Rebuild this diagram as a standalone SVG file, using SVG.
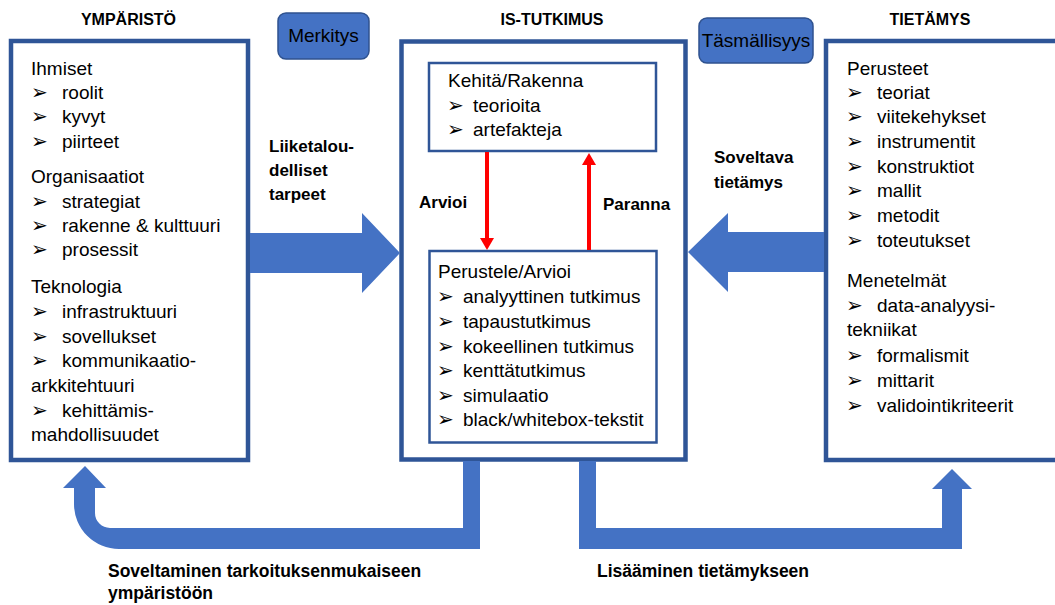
<svg xmlns="http://www.w3.org/2000/svg" width="1055" height="605" viewBox="0 0 1055 605">
<style>
.big{fill:#fff;stroke:#2F5597;stroke-width:4.5}
.inner{fill:#fff;stroke:#2F5597;stroke-width:2.5}
.btn{fill:#4472C4;stroke:#2F528F;stroke-width:1.5}
.t{font-family:"Liberation Sans",Arial,sans-serif;font-size:19px;fill:#000}
.b{font-family:"Liberation Sans",Arial,sans-serif;font-weight:bold;fill:#000}
.bl{font-family:"DejaVu Sans",sans-serif;font-size:20px}
.arr{fill:#4472C4}
.red{stroke:#FF0000;stroke-width:4;fill:none}
.redh{fill:#FF0000}
</style>
<rect width="1055" height="605" fill="#fff"/>

<g id="ymparisto">
<text class="b" x="128.5" y="25" font-size="16" text-anchor="middle">YMPÄRISTÖ</text>
<rect class="big" x="11" y="41" width="237" height="419"/>
<text class="t" x="31" y="75">Ihmiset</text>
<text class="t" y="99"><tspan class="bl" x="31">➢</tspan><tspan x="62">roolit</tspan></text>
<text class="t" y="123"><tspan class="bl" x="31">➢</tspan><tspan x="62">kyvyt</tspan></text>
<text class="t" y="148"><tspan class="bl" x="31">➢</tspan><tspan x="62">piirteet</tspan></text>
<text class="t" x="31" y="183">Organisaatiot</text>
<text class="t" y="208"><tspan class="bl" x="31">➢</tspan><tspan x="62">strategiat</tspan></text>
<text class="t" y="232"><tspan class="bl" x="31">➢</tspan><tspan x="62">rakenne &amp; kulttuuri</tspan></text>
<text class="t" y="256"><tspan class="bl" x="31">➢</tspan><tspan x="62">prosessit</tspan></text>
<text class="t" x="31" y="293">Teknologia</text>
<text class="t" y="318"><tspan class="bl" x="31">➢</tspan><tspan x="62">infrastruktuuri</tspan></text>
<text class="t" y="343"><tspan class="bl" x="31">➢</tspan><tspan x="62">sovellukset</tspan></text>
<text class="t" y="367"><tspan class="bl" x="31">➢</tspan><tspan x="62">kommunikaatio-</tspan></text>
<text class="t" x="31" y="392">arkkitehtuuri</text>
<text class="t" y="417"><tspan class="bl" x="31">➢</tspan><tspan x="62">kehittämis-</tspan></text>
<text class="t" x="31" y="441">mahdollisuudet</text>
</g>

<g id="merkitys">
<rect class="btn" x="278" y="13" width="91" height="46" rx="8"/>
<text class="t" x="323.5" y="42" text-anchor="middle">Merkitys</text>
</g>

<g id="is-tutkimus">
<text class="b" x="552" y="25" font-size="16" text-anchor="middle">IS-TUTKIMUS</text>
<rect class="big" x="401.5" y="41.5" width="284" height="418"/>
</g>

<g id="kehita">
<rect class="inner" x="429" y="63" width="227" height="88"/>
<text class="t" x="448" y="87">Kehitä/Rakenna</text>
<text class="t" y="112"><tspan class="bl" x="447">➢</tspan><tspan x="473">teorioita</tspan></text>
<text class="t" y="136"><tspan class="bl" x="447">➢</tspan><tspan x="473">artefakteja</tspan></text>
</g>

<g id="perustele">
<rect class="inner" x="429.5" y="251" width="227" height="191.5"/>
<text class="t" x="438" y="278">Perustele/Arvioi</text>
<text class="t" y="303"><tspan class="bl" x="437">➢</tspan><tspan x="463">analyyttinen tutkimus</tspan></text>
<text class="t" y="328"><tspan class="bl" x="437">➢</tspan><tspan x="463">tapaustutkimus</tspan></text>
<text class="t" y="353"><tspan class="bl" x="437">➢</tspan><tspan x="463">kokeellinen tutkimus</tspan></text>
<text class="t" y="377"><tspan class="bl" x="437">➢</tspan><tspan x="463">kenttätutkimus</tspan></text>
<text class="t" y="402"><tspan class="bl" x="437">➢</tspan><tspan x="463">simulaatio</tspan></text>
<text class="t" y="426"><tspan class="bl" x="437">➢</tspan><tspan x="463">black/whitebox-tekstit</tspan></text>
</g>

<g id="tasmallisyys">
<rect class="btn" x="699" y="18" width="114" height="45" rx="8"/>
<text class="t" x="756" y="47" font-size="17" text-anchor="middle">Täsmällisyys</text>
</g>

<g id="tietamys">
<text class="b" x="930" y="25" font-size="16" text-anchor="middle">TIETÄMYS</text>
<rect class="big" x="826" y="41" width="260" height="419"/>
<text class="t" x="847" y="75">Perusteet</text>
<text class="t" y="99"><tspan class="bl" x="846">➢</tspan><tspan x="877">teoriat</tspan></text>
<text class="t" y="123"><tspan class="bl" x="846">➢</tspan><tspan x="877">viitekehykset</tspan></text>
<text class="t" y="148"><tspan class="bl" x="846">➢</tspan><tspan x="877">instrumentit</tspan></text>
<text class="t" y="173"><tspan class="bl" x="846">➢</tspan><tspan x="877">konstruktiot</tspan></text>
<text class="t" y="197"><tspan class="bl" x="846">➢</tspan><tspan x="877">mallit</tspan></text>
<text class="t" y="222"><tspan class="bl" x="846">➢</tspan><tspan x="877">metodit</tspan></text>
<text class="t" y="247"><tspan class="bl" x="846">➢</tspan><tspan x="877">toteutukset</tspan></text>
<text class="t" x="847" y="287">Menetelmät</text>
<text class="t" y="312"><tspan class="bl" x="846">➢</tspan><tspan x="877">data-analyysi-</tspan></text>
<text class="t" x="847" y="336">tekniikat</text>
<text class="t" y="362"><tspan class="bl" x="846">➢</tspan><tspan x="877">formalismit</tspan></text>
<text class="t" y="387"><tspan class="bl" x="846">➢</tspan><tspan x="877">mittarit</tspan></text>
<text class="t" y="412"><tspan class="bl" x="846">➢</tspan><tspan x="877">validointikriteerit</tspan></text>
</g>

<g id="connectors">
<path class="arr" d="M250,233 L362,233 L362,213 L400,253 L362,293 L362,273 L250,273 Z"/>
<path class="arr" d="M824,232 L728,232 L728,213 L688,252 L728,292 L728,272 L824,272 Z"/>
<path class="arr" d="M463,461 L480,461 L480,549 L119,549 A45,45 0 0 1 74,504 L74,488 L63,488 L85,466 L106,488 L95,488 L95,513 A15,15 0 0 0 110,528 L463,528 Z"/>
<path class="arr" d="M579,461 L596,461 L596,528 L942,528 L942,489 L932,489 L952,469 L972,489 L962,489 L962,549 L579,549 Z"/>
<line class="red" x1="487" y1="152" x2="487" y2="239"/>
<path class="redh" d="M480,238 L494,238 L487,250 Z"/>
<line class="red" x1="589" y1="250" x2="589" y2="164"/>
<path class="redh" d="M582,165 L596,165 L589,153 Z"/>
<text class="b" font-size="17"><tspan x="269" y="152">Liiketalou-</tspan><tspan x="269" y="176">delliset</tspan><tspan x="269" y="200">tarpeet</tspan></text>
<text class="b" font-size="17"><tspan x="714" y="163">Soveltava</tspan><tspan x="714" y="188">tietämys</tspan></text>
<text class="b" x="419" y="208" font-size="17">Arvioi</text>
<text class="b" x="603" y="210" font-size="17">Paranna</text>
<text class="b" font-size="17.5"><tspan x="108" y="577">Soveltaminen tarkoituksenmukaiseen</tspan><tspan x="108" y="599">ympäristöön</tspan></text>
<text class="b" x="597" y="577" font-size="17.5">Lisääminen tietämykseen</text>
</g>
</svg>
